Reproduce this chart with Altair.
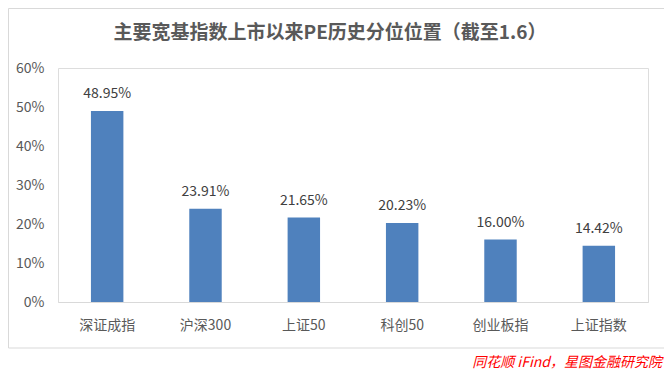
import altair as alt
import pandas as pd

categories = ["深证成指", "沪深300", "上证50", "科创50", "创业板指", "上证指数"]
values = [48.95, 23.91, 21.65, 20.23, 16.00, 14.42]
title_text = "主要宽基指数上市以来PE历史分位位置（截至1.6）"
source_text = "同花顺 iFind，星图金融研究院"
y_ticks = [0, 0.1, 0.2, 0.3, 0.4, 0.5, 0.6]

df = pd.DataFrame({"name": categories, "pct": [v / 100 for v in values]})

FONT = "Noto Sans CJK SC"
GREY = "#595959"

base = alt.Chart(df)

x_enc = alt.X("name:N", sort=categories, title=None,
              scale=alt.Scale(paddingInner=0.67, paddingOuter=0.335),
              axis=alt.Axis(labelAngle=0, labelFont=FONT, labelFontSize=14, labelColor=GREY,
                            ticks=False, domainColor="#d9d9d9", labelPadding=16))
y_enc = alt.Y("pct:Q", title=None,
              scale=alt.Scale(domain=[0, 0.6], nice=False),
              axis=alt.Axis(format=".0%", values=y_ticks, grid=False,
                            domain=False, ticks=False, labelFont=FONT, labelFontSize=14,
                            labelColor=GREY, labelPadding=14, labelOverlap=False))

bars = base.mark_bar(color="#4F81BD").encode(x=x_enc, y=y_enc)

labels = base.mark_text(baseline="bottom", dy=-10, font=FONT, fontSize=14, color="#404040").encode(
    x=x_enc,
    y=y_enc,
    text=alt.Text("pct:Q", format=".2%"),
)

frame = alt.Chart(pd.DataFrame({"a": [0]})).mark_rect(
    fill=None, stroke="#d9d9d9", strokeWidth=1, clip=False
).encode(x=alt.value(-49.5), x2=alt.value(610), y=alt.value(-59.5), y2=alt.value(280))

title = alt.Chart(pd.DataFrame({"t": [title_text]})).mark_text(
    align="center", baseline="middle", font=FONT, fontSize=19, fontWeight="bold", color=GREY
).encode(x=alt.value(272), y=alt.value(-35), text="t:N")

source = alt.Chart(pd.DataFrame({"t": [source_text]})).mark_text(
    align="right", baseline="middle", font=FONT, fontSize=14, fontStyle="italic", color="#FF0000"
).encode(x=alt.value(604), y=alt.value(295), text="t:N")

chart = alt.layer(frame, title, bars, labels, source).properties(
    width=590, height=234,
    autosize=alt.AutoSizeParams(type="none"),
    padding={"left": 50, "top": 60, "right": 16, "bottom": 70},
).configure_view(stroke=None).configure(background="white")

chart.save("out.html", embed_options={"renderer": "svg", "actions": False})
